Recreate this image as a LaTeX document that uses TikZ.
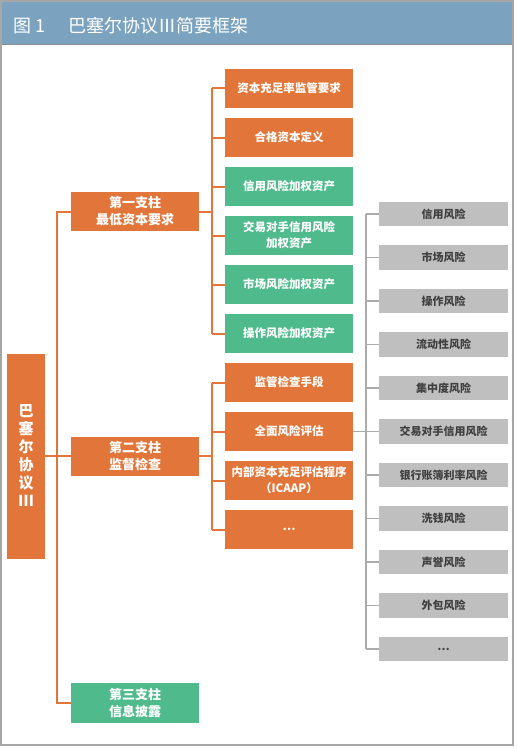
\documentclass[tikz,border=0pt]{standalone}
\usepackage{fontspec}
\setmainfont{Noto Sans CJK SC}
\newfontfamily\cjk{Noto Sans CJK SC}
\definecolor{orgc}{HTML}{E2763A}
\definecolor{grnc}{HTML}{4FBA8B}
\definecolor{gryc}{HTML}{BFBFBF}
\definecolor{hdrc}{HTML}{7BA3BF}
\definecolor{lngc}{HTML}{ABABAB}
\tikzset{
  obox/.style={fill=orgc,text=white,minimum width=128pt,minimum height=39pt,inner sep=1pt,align=center,font=\cjk\bfseries\fontsize{11.5}{16}\selectfont},
  gbox/.style={obox,fill=grnc},
  pbox/.style={obox,font=\cjk\bfseries\fontsize{13}{17}\selectfont},
  rbox/.style={fill=gryc,text=black!75,minimum width=129pt,minimum height=24.5pt,inner sep=1pt,align=center,font=\cjk\bfseries\fontsize{11}{14}\selectfont},
  oline/.style={draw=orgc,line width=2pt},
  rline/.style={draw=lngc,line width=1.6pt}
}
\begin{document}
\begin{tikzpicture}[x=1pt,y=-1pt]
\useasboundingbox (0,0) rectangle (517,749);
% frame and header
\fill[white] (0,0) rectangle (517,749);
\fill[hdrc] (1,1) rectangle (513,45);
\draw[draw=black!45,line width=1pt] (1,45) -- (513,45);
\draw[draw=black!35,line width=1.5pt] (1,1) rectangle (513,745);
\node[anchor=west,text=white,font=\cjk\fontsize{18}{22}\selectfont,inner sep=0] (title) at (13,26) {图 1\hspace{1.3em}巴塞尔协议Ⅲ简要框架};
% main
\node[fill=orgc,text=white,minimum width=38pt,minimum height=205pt,inner sep=0,align=center,font=\cjk\bfseries\fontsize{15}{18}\selectfont] (main) at (26,456) {巴\\塞\\尔\\协\\议\\Ⅲ};
% pillars
\node[pbox] (p1) at (135,211.5) {第一支柱\\最低资本要求};
\node[pbox] (p2) at (135,456) {第二支柱\\监督检查};
\node[pbox,fill=grnc,minimum height=40pt] (p3) at (135,703) {第三支柱\\信息披露};
% pillar 1 children
\node[obox] (a1) at (289,88.5) {资本充足率监管要求};
\node[obox] (a2) at (289,137.5) {合格资本定义};
\node[gbox] (a3) at (289,186.5) {信用风险加权资产};
\node[gbox] (a4) at (289,235.5) {交易对手信用风险\\加权资产};
\node[gbox] (a5) at (289,284.5) {市场风险加权资产};
\node[gbox] (a6) at (289,333.5) {操作风险加权资产};
% pillar 2 children
\node[obox] (b1) at (289,382.5) {监管检查手段};
\node[obox] (b2) at (289,431.5) {全面风险评估};
\node[obox] (b3) at (289,480.5) {内部资本充足评估程序\\（ICAAP）};
\node[obox] (b4) at (289,529.5) {…};
% risks
\node[rbox] (g1) at (443.5,214) {信用风险};
\node[rbox] (g2) at (443.5,257.5) {市场风险};
\node[rbox] (g3) at (443.5,301) {操作风险};
\node[rbox] (g4) at (443.5,344.5) {流动性风险};
\node[rbox] (g5) at (443.5,388) {集中度风险};
\node[rbox] (g6) at (443.5,431.5) {交易对手信用风险};
\node[rbox] (g7) at (443.5,475) {银行账簿利率风险};
\node[rbox] (g8) at (443.5,518.5) {洗钱风险};
\node[rbox] (g9) at (443.5,562) {声誉风险};
\node[rbox] (g10) at (443.5,605.5) {外包风险};
\node[rbox] (g11) at (443.5,649) {…};
% connector columns
\coordinate (tx) at (57,0);
\coordinate (bx) at (212,0);
\coordinate (gx) at (366,0);
% trunk
\draw[oline] (main.east) -- (p2.west);
\draw[oline] (p1.west) -- (p1.west -| tx) -- (p3.west -| tx) -- (p3.west);
% pillar 1 bracket
\draw[oline] (p1.east) -- (p1.east -| bx);
\draw[oline] (a1.west -| bx) -- (a6.west -| bx);
\foreach \n in {a1,a2,a3,a4,a5,a6} {\draw[oline] (\n.west) -- (\n.west -| bx);}
% pillar 2 bracket
\draw[oline] (p2.east) -- (p2.east -| bx);
\draw[oline] (b1.west -| bx) -- (b4.west -| bx);
\foreach \n in {b1,b2,b3,b4} {\draw[oline] (\n.west) -- (\n.west -| bx);}
% risks bracket
\draw[rline] (b2.east) -- (b2.east -| gx);
\draw[rline] (g1.west -| gx) -- (g11.west -| gx);
\foreach \n in {g1,g2,g3,g4,g5,g6,g7,g8,g9,g10,g11} {\draw[rline] (\n.west) -- (\n.west -| gx);}
\end{tikzpicture}
\end{document}
